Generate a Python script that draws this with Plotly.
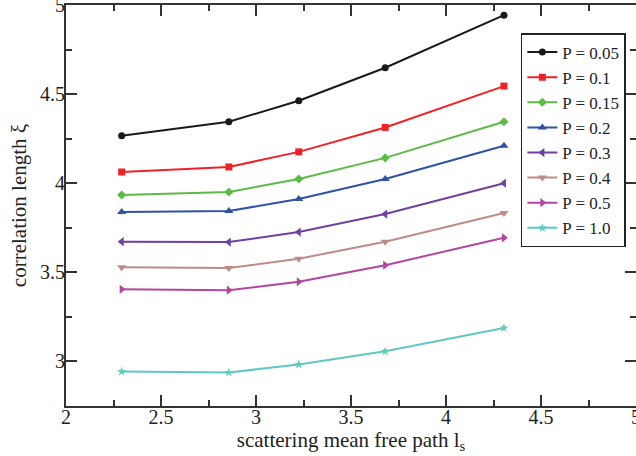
import plotly.graph_objects as go

x_ls = [2.293, 2.857, 3.225, 3.68, 4.305]

labels = ["P = 0.05", "P = 0.1", "P = 0.15", "P = 0.2", "P = 0.3", "P = 0.4", "P = 0.5", "P = 1.0"]
xi_005 = [4.266, 4.345, 4.463, 4.648, 4.943]
xi_01 = [4.063, 4.091, 4.176, 4.313, 4.545]
xi_015 = [3.934, 3.951, 4.024, 4.142, 4.345]
xi_02 = [3.838, 3.844, 3.911, 4.024, 4.21]
xi_03 = [3.672, 3.670, 3.726, 3.827, 4.0]
xi_04 = [3.529, 3.524, 3.576, 3.672, 3.833]
xi_05 = [3.405, 3.400, 3.447, 3.540, 3.694]
xi_10 = [2.943, 2.938, 2.983, 3.057, 3.188]

series = [xi_005, xi_01, xi_015, xi_02, xi_03, xi_04, xi_05, xi_10]
colors = ["#1a1a1a", "#ee2226", "#5cbb45", "#2f52a4", "#7040a0", "#bd8c86", "#b3479f", "#5ec8c2"]
symbols = ["circle", "square", "diamond", "triangle-up", "triangle-left", "triangle-down", "triangle-right", "star"]
sizes = [7, 7, 7, 8, 8, 8, 8, 7]

fig = go.Figure()
for lab, ys, c, s, sz in zip(labels, series, colors, symbols, sizes):
    fig.add_trace(go.Scatter(
        x=x_ls, y=ys, name=lab, mode="lines+markers",
        line=dict(color=c, width=2),
        marker=dict(symbol=s, size=sz, color=c),
    ))

font_fam = "Liberation Serif, Times New Roman, serif"
axis_common = dict(
    showline=True, linecolor="#333", linewidth=2, mirror="ticks",
    ticks="inside", ticklen=11, tickwidth=1.5, tickcolor="#333",
    showgrid=False, zeroline=False, automargin=False,
    tickfont=dict(family=font_fam, size=20, color="#222"),
    ticklabeloverflow="allow",
    minor=dict(ticks="inside", ticklen=6, tickwidth=1.5, tickcolor="#333", dtick=0.25),
)

fig.update_layout(
    width=636, height=456,
    margin=dict(l=66, r=0, t=5, b=50),
    paper_bgcolor="white", plot_bgcolor="white",
    font=dict(family=font_fam, color="#222"),
    xaxis=dict(range=[2, 5], dtick=0.5, tick0=2, ticklabelstandoff=-8,
               title=dict(text="scattering mean free path l<sub>s</sub>", font=dict(size=21), standoff=2),
               **axis_common),
    yaxis=dict(range=[2.75, 5], dtick=0.5, tick0=3, ticklabelstandoff=-5,
               title=dict(text="correlation length ξ", font=dict(size=21), standoff=8),
               **axis_common),
    legend=dict(
        x=0.798, y=0.93, xanchor="left", yanchor="top",
        bgcolor="white", bordercolor="#222", borderwidth=1.5,
        font=dict(family=font_fam, size=17, color="#222"),
        itemwidth=30, tracegroupgap=0,
    ),
    showlegend=True,
)

fig.write_html("out.html")
